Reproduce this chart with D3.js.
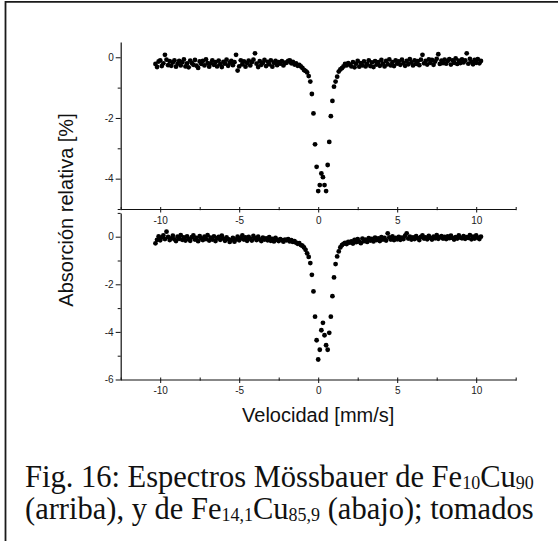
<!DOCTYPE html>
<html>
<head>
<meta charset="utf-8">
<script src="https://cdn.jsdelivr.net/npm/d3@7"></script>
<style>
html,body{margin:0;padding:0;background:#fff;}
svg{display:block;}
</style>
</head>
<body>
<svg id="chart" width="558" height="541"></svg>
<script>
// ---- DATA ----
const velocity = [
-10.3,-10.2,-10.1,-10.0,-9.9,-9.8,-9.7,-9.6,-9.5,-9.4,
-9.3,-9.2,-9.1,-9.0,-8.9,-8.8,-8.7,-8.6,-8.5,-8.4,
-8.3,-8.2,-8.1,-8.0,-7.9,-7.8,-7.7,-7.6,-7.5,-7.4,
-7.3,-7.2,-7.1,-7.0,-6.9,-6.8,-6.7,-6.6,-6.5,-6.4,
-6.3,-6.2,-6.1,-6.0,-5.9,-5.8,-5.7,-5.6,-5.5,-5.4,
-5.3,-5.2,-5.1,-5.0,-4.9,-4.8,-4.7,-4.6,-4.5,-4.4,
-4.3,-4.2,-4.1,-4.0,-3.9,-3.8,-3.7,-3.6,-3.5,-3.4,
-3.3,-3.2,-3.1,-3.0,-2.9,-2.8,-2.7,-2.6,-2.5,-2.4,
-2.3,-2.2,-2.1,
-2.0,-1.9,-1.8,-1.7,-1.6,-1.5,-1.4,-1.3,-1.2,-1.1,
-1.0,-0.9,-0.8,-0.7,-0.6,-0.5,-0.4,-0.3,-0.2,-0.1,
0.0,0.1,0.2,0.3,0.4,0.5,0.6,0.7,0.8,0.9,
1.0,1.1,1.2,1.3,1.4,1.5,1.6,1.7,1.8,1.9,2.0,
2.1,2.2,2.3,2.4,2.5,2.6,2.7,2.8,2.9,3.0,
3.1,3.2,3.3,3.4,3.5,3.6,3.7,3.8,3.9,4.0,
4.1,4.2,4.3,4.4,4.5,4.6,4.7,4.8,4.9,5.0,
5.1,5.2,5.3,5.4,5.5,5.6,5.7,5.8,5.9,6.0,
6.1,6.2,6.3,6.4,6.5,6.6,6.7,6.8,6.9,7.0,
7.1,7.2,7.3,7.4,7.5,7.6,7.7,7.8,7.9,8.0,
8.1,8.2,8.3,8.4,8.5,8.6,8.7,8.8,8.9,9.0,
9.1,9.2,9.3,9.4,9.5,9.6,9.7,9.8,9.9,10.0,
10.1,10.2,10.3
];

// Fe10Cu90 (arriba)
const absTop = [
-0.22,-0.32,-0.14,-0.10,-0.29,-0.20,0.08,-0.08,-0.26,-0.13,
-0.28,-0.17,-0.10,-0.31,-0.21,-0.12,-0.27,-0.16,-0.07,-0.30,
-0.20,-0.33,-0.11,-0.19,-0.25,-0.09,-0.28,-0.35,-0.14,-0.22,
-0.12,-0.27,-0.07,-0.19,-0.31,-0.20,-0.10,-0.25,-0.16,-0.30,
-0.11,-0.23,-0.32,-0.15,-0.21,-0.08,-0.28,-0.18,-0.12,-0.26,
-0.16,0.08,-0.44,-0.30,-0.10,-0.23,-0.14,-0.31,-0.19,-0.11,
-0.27,-0.16,-0.08,0.13,-0.21,-0.32,-0.13,-0.25,-0.18,-0.09,
-0.29,-0.15,-0.23,-0.10,-0.31,-0.18,-0.12,-0.26,-0.16,-0.21,
-0.13,-0.27,-0.18,
-0.18,-0.12,-0.10,-0.20,-0.15,-0.24,-0.20,-0.28,-0.25,-0.30,
-0.35,-0.42,-0.45,-0.50,-0.62,-0.80,-1.21,-1.85,-2.87,-3.61,
-4.41,-4.21,-3.83,-3.95,-4.21,-4.41,-3.55,-2.79,-1.94,-1.44,
-0.97,-0.80,-0.64,-0.47,-0.40,-0.36,-0.30,-0.22,-0.27,-0.19,-0.24,
-0.30,-0.16,-0.33,-0.21,-0.12,-0.31,-0.19,-0.27,-0.14,-0.30,
-0.22,-0.10,-0.29,-0.17,-0.32,-0.13,-0.24,-0.16,-0.28,-0.09,
-0.21,-0.30,-0.12,-0.23,-0.07,-0.27,-0.16,-0.29,-0.10,-0.21,
-0.14,-0.25,-0.08,-0.19,-0.28,-0.12,-0.23,-0.06,-0.17,-0.27,
-0.10,-0.22,-0.13,-0.26,-0.08,0.08,-0.20,-0.12,-0.24,-0.07,
-0.18,-0.09,-0.25,-0.14,-0.05,0.10,-0.22,-0.11,-0.19,-0.08,
-0.21,-0.12,-0.06,-0.24,-0.10,-0.18,-0.04,-0.22,-0.11,-0.19,
-0.07,-0.17,-0.10,0.13,-0.21,-0.05,-0.15,-0.23,-0.09,-0.18,
-0.06,-0.20,-0.12
];

// Fe14,1Cu85,9 (abajo)
const absBottom = [
-0.28,-0.13,0.01,-0.15,-0.03,0.05,-0.10,0.21,-0.01,-0.14,
-0.07,0.04,-0.11,-0.18,0.00,-0.09,0.06,-0.13,-0.03,-0.16,
0.01,-0.10,-0.17,-0.02,0.05,-0.12,-0.05,-0.19,0.02,-0.08,
-0.14,0.00,-0.10,0.06,-0.16,-0.04,-0.12,0.01,-0.18,-0.06,
-0.01,-0.13,0.04,-0.08,-0.17,-0.03,-0.10,-0.22,-0.13,-0.05,
-0.21,-0.11,0.00,-0.15,-0.07,0.05,-0.12,-0.03,-0.17,-0.01,
-0.09,-0.16,0.03,-0.06,-0.14,0.00,-0.11,-0.18,-0.04,-0.12,
-0.07,-0.15,-0.02,-0.17,-0.09,-0.20,-0.05,-0.13,-0.18,-0.10,
-0.14,-0.21,-0.12,
-0.15,-0.10,-0.20,-0.14,-0.22,-0.19,-0.25,-0.30,-0.27,-0.35,
-0.38,-0.45,-0.55,-0.70,-0.85,-1.11,-1.60,-2.30,-3.36,-4.35,
-5.16,-4.75,-3.93,-3.62,-4.14,-4.56,-4.75,-4.04,-3.36,-2.50,
-1.71,-1.15,-0.83,-0.62,-0.45,-0.36,-0.30,-0.26,-0.31,-0.22,-0.25,
-0.20,-0.29,-0.13,-0.23,-0.10,-0.21,-0.27,-0.08,-0.19,-0.12,
-0.22,-0.06,-0.16,-0.09,-0.20,-0.04,-0.14,-0.07,-0.18,-0.02,
-0.12,-0.05,-0.16,0.14,-0.03,-0.12,0.01,-0.14,-0.05,-0.11,
-0.01,-0.13,-0.04,-0.10,0.04,0.14,-0.08,0.00,-0.12,-0.03,
-0.10,0.02,-0.06,-0.14,-0.01,0.05,-0.08,-0.03,-0.11,0.03,
-0.05,-0.12,0.00,-0.07,0.06,-0.09,-0.03,0.02,-0.08,-0.01,
-0.10,0.01,-0.06,0.04,-0.05,-0.12,-0.02,-0.08,0.05,-0.04,
-0.07,0.02,-0.09,-0.02,-0.05,0.07,-0.11,0.00,-0.08,0.05,
-0.04,-0.10,0.00
];

const xMajorTicks = [-10, -5, 0, 5, 10];
const xMinorTicks = [-12.5, -7.5, -2.5, 2.5, 7.5, 12.5];
const yTopMajorTicks = [0, -2, -4];
const yTopMinorTicks = [-1, -3, -5];
const yBottomMajorTicks = [0, -2, -4, -6];
const yBottomMinorTicks = [1, -1, -3, -5];

const xTitle = "Velocidad [mm/s]";
const yTitle = "Absorción relativa [%]";

// ---- DRAW ----
const svg = d3.select("#chart");
const SANS = "'Liberation Sans', Arial, sans-serif";
const SERIF = "'Liberation Serif', 'Times New Roman', serif";

// frame (only top and left edges are inside the picture)
svg.append("path")
  .attr("d", "M5.5,541 V1.8 H558")
  .attr("fill", "none").attr("stroke", "#1a1a1a").attr("stroke-width", 1.8);

const x = d3.scaleLinear().domain([-12.5, 12.5]).range([120.7, 515.7]);
const yTop = d3.scaleLinear().domain([-5, 0.5]).range([209, 42.1]);
const yBot = d3.scaleLinear().domain([-6, 1]).range([379.5, 212.9]);

const fmt = d => String(d);

function drawPanel(y, major, minor, values) {
  const g = svg.append("g");
  const ya = g.append("g").attr("transform", `translate(${x.range()[0]},0)`)
    .call(d3.axisLeft(y).tickValues(major).tickSize(5).tickSizeOuter(0).tickPadding(2).tickFormat(fmt));
  ya.select(".domain").attr("stroke", "#111").attr("stroke-width", 1.2);
  ya.selectAll(".tick line").attr("stroke", "#111").attr("stroke-width", 1);
  ya.selectAll(".tick text").attr("font-family", SANS).attr("font-size", 10).attr("fill", "#222");
  const ym = g.append("g").attr("transform", `translate(${x.range()[0]},0)`)
    .call(d3.axisLeft(y).tickValues(minor).tickSize(3).tickSizeOuter(0).tickFormat(""));
  ym.select(".domain").remove();
  ym.selectAll(".tick line").attr("stroke", "#111").attr("stroke-width", 1);

  const y0 = y.range()[0];
  const xa = g.append("g").attr("transform", `translate(0,${y0})`)
    .call(d3.axisBottom(x).tickValues(xMajorTicks).tickSize(3.5).tickSizeOuter(0).tickFormat(fmt));
  xa.select(".domain").attr("stroke", "#111").attr("stroke-width", 1.2);
  xa.selectAll(".tick line").attr("y1", -2).attr("stroke", "#111").attr("stroke-width", 1);
  xa.selectAll(".tick text").attr("y", 14.5).attr("dy", null)
    .attr("font-family", SANS).attr("font-size", 10).attr("fill", "#222");
  const xm = g.append("g").attr("transform", `translate(0,${y0})`)
    .call(d3.axisBottom(x).tickValues(xMinorTicks).tickSize(1.2).tickSizeOuter(0).tickFormat(""));
  xm.select(".domain").remove();
  xm.selectAll(".tick line").attr("y1", -2).attr("stroke", "#111").attr("stroke-width", 1);

  g.append("g").selectAll("circle")
    .data(velocity.map((v, i) => [v, values[i]]))
    .join("circle")
    .attr("cx", d => x(d[0]))
    .attr("cy", d => y(d[1]))
    .attr("r", 2.4)
    .attr("fill", "#000");
}

drawPanel(yTop, yTopMajorTicks, yTopMinorTicks, absTop);
drawPanel(yBot, yBottomMajorTicks, yBottomMinorTicks, absBottom);

// axis titles
svg.append("text")
  .attr("transform", "translate(73,210) rotate(-90)")
  .attr("text-anchor", "middle")
  .attr("font-family", SANS).attr("font-size", 20).attr("fill", "#111")
  .text(yTitle);

svg.append("text")
  .attr("x", (x.range()[0] + x.range()[1]) / 2).attr("y", 421.7)
  .attr("text-anchor", "middle")
  .attr("font-family", SANS).attr("font-size", 20).attr("fill", "#111")
  .text(xTitle);

// caption
const captionLines = [
  [["Fig. 16: Espectros Mössbauer de Fe", false], ["10", true], ["Cu", false], ["90", true]],
  [["(arriba), y de Fe", false], ["14,1", true], ["Cu", false], ["85,9", true], [" (abajo); tomados", false]]
];
const captionY = [487.3, 518.8];
captionLines.forEach((parts, li) => {
  const t = svg.append("text")
    .attr("x", 25).attr("y", captionY[li])
    .attr("font-family", SERIF).attr("font-size", 30.5).attr("fill", "#111")
    .attr("xml:space", "preserve");
  let shifted = false;
  parts.forEach(([s, sub]) => {
    const ts = t.append("tspan").text(s);
    if (sub) { ts.attr("font-size", 18); if (!shifted) { ts.attr("dy", 2); shifted = true; } }
    else if (shifted) { ts.attr("dy", -2); shifted = false; }
  });
});
</script>
</body>
</html>
